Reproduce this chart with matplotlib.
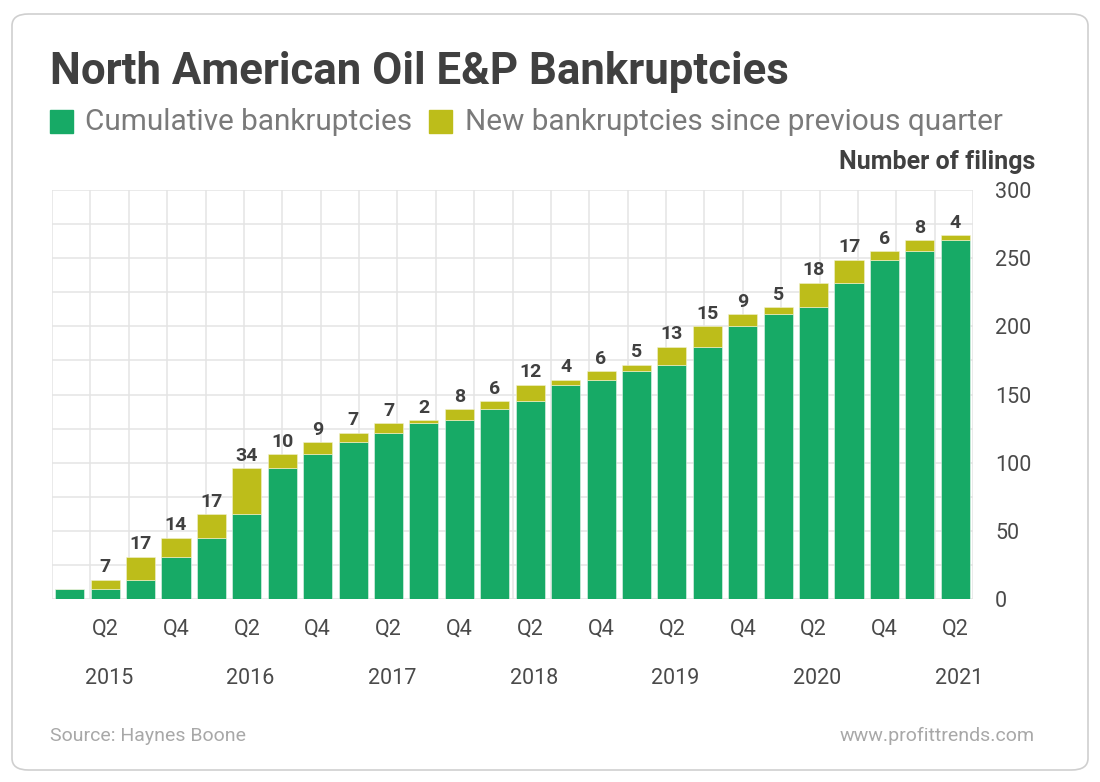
import numpy as np
import matplotlib
matplotlib.use("Agg")
import matplotlib.pyplot as plt
import matplotlib.transforms as mtransforms
from matplotlib.patches import FancyBboxPatch, Rectangle

# data
quarters = ["Q1", "Q2", "Q3", "Q4"] * 6 + ["Q1", "Q2"]
years = ["2015", "2016", "2017", "2018", "2019", "2020", "2021"]
cumulative = [7, 7, 14, 31, 45, 62, 96, 106, 115, 122, 129, 131, 139, 145,
              157, 161, 167, 172, 185, 200, 209, 214, 232, 249, 255, 263]
new_filings = [0, 7, 17, 14, 17, 34, 10, 9, 7, 7, 2, 8, 6, 12,
               4, 6, 5, 13, 15, 9, 5, 18, 17, 6, 8, 4]
y_ticks = [0, 50, 100, 150, 200, 250, 300]

green = "#17aa66"
olive = "#bdbd1a"
dark = "#404040"
grey = "#7a7a7a"
tick_col = "#4a4a4a"

plt.rcParams['font.family'] = ['Roboto', 'DejaVu Sans']

fig = plt.figure(figsize=(11, 7.82), dpi=100)
fig.patch.set_facecolor("white")

# card outline
card = FancyBboxPatch((12 / 1100, 12 / 782), 1076 / 1100, 756 / 782,
                      boxstyle="round,pad=0,rounding_size=0.015",
                      transform=fig.transFigure, facecolor="white",
                      edgecolor="#cfcfcf", lw=1.2, zorder=-5)
fig.patches.append(card)

ax = fig.add_axes([52 / 1100, 1 - 599 / 782, 921 / 1100, 409 / 782])
ax.set_facecolor("none")
ax.set_zorder(2)

x = np.arange(len(cumulative))
ax.bar(x, cumulative, width=0.82, color=green, edgecolor="#e8f5ee", lw=0.4, zorder=3)
ax.bar(x, new_filings, bottom=cumulative, width=0.82, color=olive,
       edgecolor="#f2f2d0", lw=0.4, zorder=3)

for xi, c, n in zip(x, cumulative, new_filings):
    if n > 0:
        ax.annotate(str(n), (xi, c + n), xytext=(0, 2.5), textcoords="offset points",
                    ha="center", va="bottom", fontsize=14, fontweight="bold",
                    color=dark, zorder=4)

ax.set_xlim(-0.5, len(cumulative) - 0.5)
ax.set_ylim(0, 300)

# background grid
for gy in np.arange(0, 301, 25):
    ax.axhline(gy, color="#e4e4e4", lw=1.1, zorder=1)
for gx in np.linspace(-0.5, len(cumulative) - 0.5, 25):
    ax.axvline(gx, color="#e4e4e4", lw=1.1, zorder=1)

for s in ax.spines.values():
    s.set_visible(False)

ax.yaxis.tick_right()
ax.set_yticks(y_ticks)
ax.set_yticklabels([str(t) for t in y_ticks])
ax.tick_params(axis="y", length=0, pad=16, labelsize=15.5, labelcolor=tick_col)

tick_pos = [i for i in x if quarters[i] in ("Q2", "Q4")]
ax.set_xticks(tick_pos)
ax.set_xticklabels([quarters[i] for i in tick_pos])
ax.tick_params(axis="x", length=0, pad=14, labelsize=15.5, labelcolor=tick_col)

# years below Q2 labels
trans = mtransforms.blended_transform_factory(ax.transData, fig.transFigure)
q2_pos = [i for i in x if quarters[i] == "Q2"]
for xi, yr in zip(q2_pos, years):
    ax.text(xi + 0.1, 1 - 678 / 782, yr, transform=trans, ha="center", va="center",
            fontsize=15.5, color=tick_col)

# title and legend
fig.text(50 / 1100, 1 - 72 / 782, "North American Oil E&P Bankruptcies",
         fontsize=31.5, fontweight="bold", color=dark, va="center", ha="left")

fig.patches.append(Rectangle((50 / 1100, 1 - 133 / 782), 23 / 1100, 23 / 782,
                             transform=fig.transFigure, color=green))
fig.text(85 / 1100, 1 - 122 / 782, "Cumulative bankruptcies", fontsize=21.4,
         color=grey, va="center", ha="left")
fig.patches.append(Rectangle((429 / 1100, 1 - 133 / 782), 23 / 1100, 23 / 782,
                             transform=fig.transFigure, color=olive))
fig.text(465 / 1100, 1 - 122 / 782, "New bankruptcies since previous quarter",
         fontsize=21.4, color=grey, va="center", ha="left")

fig.text(1035 / 1100, 1 - 162 / 782, "Number of filings", fontsize=18,
         fontweight="bold", color=dark, va="center", ha="right")

# footer
fig.text(50 / 1100, 1 - 736 / 782, "Source: Haynes Boone", fontsize=14,
         color="#a8a8a8", va="center", ha="left")
fig.text(1035 / 1100, 1 - 736 / 782, "www.profittrends.com", fontsize=14,
         color="#a8a8a8", va="center", ha="right")

fig.savefig("out.png", dpi=100, facecolor="white")
